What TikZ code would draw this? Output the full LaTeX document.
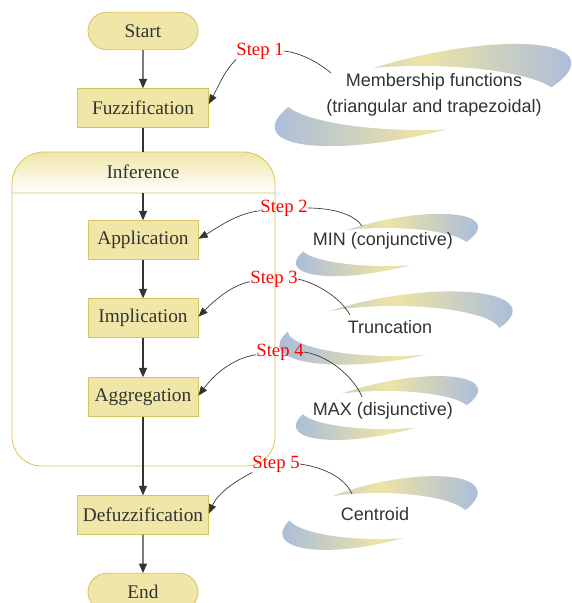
\documentclass[tikz,border=0pt]{standalone}
\usepackage{fontspec}
\setmainfont{Liberation Serif}
\setsansfont{Liberation Sans}
\usetikzlibrary{positioning,arrows.meta,shapes.misc}

\definecolor{boxfill}{HTML}{F0E6A8}
\definecolor{boxline}{HTML}{D8C35C}
\definecolor{swblue}{HTML}{A9BCDC}
\definecolor{swyellow}{HTML}{EEE4A6}
\definecolor{ink}{HTML}{333333}

% swoosh: cx cy a b tilt | white ellipse dx dy a b
\newcommand{\swoosh}[9]{%
  \shade[left color=swblue, right color=swblue, middle color=swyellow,
    rotate around={#5:(#1,#2)}] (#1,#2) ellipse [x radius=#3, y radius=#4];
  \fill[white] (#1+#6,#2+#7) ellipse [x radius=#8, y radius=#9];
}

\begin{document}
\begin{tikzpicture}[x=0.75pt,y=-0.75pt,
    box/.style={draw=boxline, line width=0.6pt, fill=boxfill, text=ink,
      font=\fontsize{14.5}{17}\selectfont, minimum height=29pt, inner sep=0pt},
    wide/.style={box, minimum width=98pt},
    narrow/.style={box, minimum width=82.5pt},
    pill/.style={box, rounded rectangle, minimum width=82.5pt, minimum height=28pt},
    steplabel/.style={text=red, font=\fontsize{14}{16}\selectfont, inner sep=0pt},
    note/.style={text=ink, font=\sffamily\fontsize{13.5}{19.5}\selectfont, align=center, inner sep=0pt},
    flow/.style={draw=ink, line width=0.8pt, -{Triangle[length=7pt,width=6pt]}},
    steparrow/.style={draw=ink, line width=0.5pt, -{Triangle[length=7pt,width=5.5pt]}},
    stepline/.style={draw=ink, line width=0.5pt}]
\useasboundingbox (0,0) rectangle (571,603);

% swooshes behind the notes
\swoosh{423}{95}{152}{39}{13}{-2}{3}{138}{32}
\swoosh{387}{245}{93}{25}{12}{-2}{2}{84}{19}
\swoosh{396}{328}{118}{32}{9}{-2}{3}{106}{25}
\swoosh{387}{408}{93}{26}{12}{-2}{2}{84}{19}
\swoosh{380}{513}{100}{30}{13}{-2}{3}{90}{23}

% inference block
\draw[boxline, line width=0.6pt, rounded corners=22pt]
  (12,193) -- (12,466) -- (275,466) -- (275,193);
\draw[boxline, line width=0.6pt, top color=boxfill, bottom color=white]
  (12,193) [rounded corners=24pt] -- (12,152) -- (275,152) [sharp corners] -- (275,193) -- cycle;
\node[text=ink, font=\fontsize{14.5}{17}\selectfont] (inf) at (143,172) {Inference};
\coordinate (inftop) at (143,152);
\coordinate (infbot) at (143,193);

% flow
\node[pill] (start) at (143,31) {Start};
\node[wide] (fuzz) at (143,108) {Fuzzification};
\node[narrow] (app) at (143,240) {Application};
\node[narrow] (imp) at (143,318) {Implication};
\node[narrow] (agg) at (143,397) {Aggregation};
\node[wide] (defuzz) at (143,515) {Defuzzification};
\node[pill] (end) at (143,592) {End};

\draw[flow] (start) -- (fuzz);
\draw[draw=ink, line width=0.8pt] (fuzz) -- (inftop);
\draw[flow] (infbot) -- (app);
\draw[flow] (app) -- (imp);
\draw[flow] (imp) -- (agg);
\draw[flow] (agg) -- (defuzz);
\draw[flow] (defuzz) -- (end);

% steps
\node[steplabel] (s1) at (260,51) {Step 1};
\node[steplabel] (s2) at (284,208) {Step 2};
\node[steplabel] (s3) at (274,279) {Step 3};
\node[steplabel] (s4) at (280,352) {Step 4};
\node[steplabel] (s5) at (276,464) {Step 5};

\node[note] (memb) at (434,95) {Membership functions\\(triangular and trapezoidal)};
\node[note] (min) at (383,241) {MIN (conjunctive)};
\node[note] (trunc) at (390,327) {Truncation};
\node[note] (max) at (383,411) {MAX (disjunctive)};
\node[note] (cent) at (375,514) {Centroid};

\coordinate (m1) at (331,73);
\coordinate (m2) at (362,226);
\coordinate (m3) at (350,315);
\coordinate (m4) at (362,397);
\coordinate (m5) at (352,494);

\draw[steparrow] (s1.south west) .. controls +(-12,12) and +(12,-22) .. ([yshift=3pt]fuzz.east);
\draw[steparrow] ([yshift=-2pt]s2.west) .. controls +(-25,3) and +(18,-10) .. ([yshift=1pt]app.east);
\draw[steparrow] ([yshift=-2pt]s3.west) .. controls +(-20,4) and +(15,-15) .. ([yshift=1pt]imp.east);
\draw[steparrow] ([yshift=-2pt]s4.west) .. controls +(-25,4) and +(15,-20) .. ([yshift=1pt]agg.east);
\draw[steparrow] (s5.south west) .. controls +(-15,8) and +(10,-22) .. ([yshift=1pt]defuzz.east);

\draw[stepline] (s1.east) .. controls +(18,2) and +(-12,-10) .. (m1);
\draw[stepline] (s2.east) .. controls +(28,0) and +(-6,-10) .. (m2);
\draw[stepline] (s3.east) .. controls +(18,4) and +(-10,-18) .. (m3);
\draw[stepline] (s4.east) .. controls +(28,4) and +(-6,-16) .. (m4);
\draw[stepline] (s5.east) .. controls +(28,4) and +(-6,-14) .. (m5);
\end{tikzpicture}
\end{document}
